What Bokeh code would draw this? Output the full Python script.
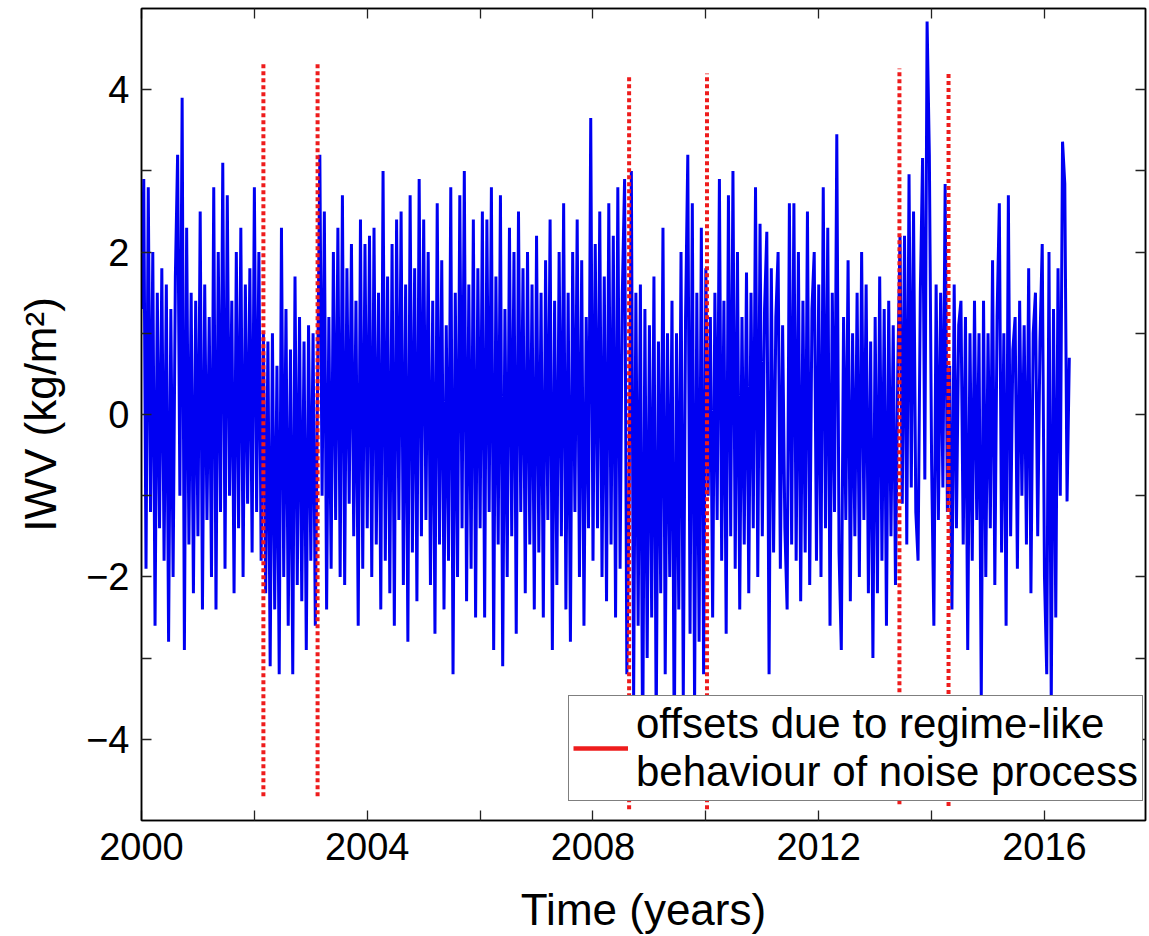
from bokeh.plotting import figure
from bokeh.models import (FixedTicker, LinearAxis, Range1d, Legend, LegendItem,
                          CustomLabelingPolicy)
from bokeh.embed import file_html
from bokeh.resources import INLINE

# IWV anomaly (kg/m^2), one value every 0.04 yr, starting at each year's beginning
iwv_2000 = [1.3, 2.9, -1.9, 2.8, -1.2, 2.0, -2.6, 1.5, -1.4, 1.8, -1.8, 1.6, -2.8,
            1.3, -2.0, 1.7, 3.2, -1.0, 3.9, -2.9, 2.3, -1.6, 1.5, -2.2, 1.4]
iwv_2001 = [-1.5, 2.5, -2.4, 1.6, -1.3, 1.2, -2.0, 2.8, -2.4, 2.0, -1.2, 3.1, -1.9,
            2.7, -1.0, 1.4, -2.2, 2.0, -1.4, 2.3, -2.0, 1.6, -1.1, 1.8, -1.7]
iwv_2002 = [2.8, -1.2, 2.0, -1.8, 1.0, -2.2, 0.9, -3.1, 1.0, -2.4, 0.6, -3.2, 2.3,
            -2.0, 1.3, -2.6, 0.8, -3.2, 1.7, -2.1, 1.2, -2.3, 0.9, -2.9, 1.1]
iwv_2003 = [-1.8, 1.0, -2.6, 0.4, 3.2, -1.0, 2.5, -2.4, 1.2, -1.9, 2.0, -1.3, 2.3,
            -2.0, 2.7, -2.1, 1.8, -1.1, 2.1, -1.5, 1.4, -2.6, 2.4, -1.9, 2.1]
iwv_2004 = [-1.4, 2.2, -2.0, 2.3, -1.6, 1.5, -2.4, 3.0, -1.8, 1.7, -2.2, 2.1, -2.6,
            2.4, -1.3, 2.5, -2.1, 1.6, -2.8, 2.7, -1.7, 1.8, -2.3, 2.9, -1.5]
iwv_2005 = [2.4, -1.3, 2.0, -2.1, 1.4, -2.7, 2.6, -1.6, 1.9, -2.4, 1.1, -1.8, 2.8,
            -3.2, 1.5, -2.0, 2.7, -1.4, 3.0, -2.3, 1.6, -1.9, 2.4, -2.5, 1.8]
iwv_2006 = [-1.4, 2.5, -2.5, 2.4, -1.2, 2.8, -2.9, 1.7, -1.6, 2.7, -3.1, 1.3, -2.0,
            2.3, -1.5, 2.0, -2.7, 2.5, -1.2, 1.8, -2.2, 2.0, -1.6, 1.6, -2.4]
iwv_2007 = [2.2, -1.7, 1.5, -2.5, 1.9, -1.3, 2.4, -2.9, 1.4, -2.1, 2.0, -1.5, 2.6,
            -2.4, 1.5, -2.8, 2.0, -1.2, 2.4, -2.0, 1.9, -2.6, 1.2, -1.4, 3.65]
iwv_2008 = [-1.8, 2.1, -1.4, 2.5, -2.0, 1.7, -2.3, 2.6, -1.6, 2.2, -2.5, 2.8, -1.9,
            1.5, 2.9, -3.2, -1.0, 3.0, -3.5, 1.5, -2.6, 1.6, -4.3, 1.3, -3.0]
iwv_2009 = [1.1, -2.5, 1.7, -3.9, 0.9, -2.2, 2.3, -3.2, 1.0, -2.0, 1.4, -4.2, 1.0,
            -2.4, 2.0, -3.5, 1.2, 3.2, -2.7, 2.6, -3.6, 1.5, -2.8, 2.3, -3.2]
iwv_2010 = [1.8, -1.0, 1.2, -2.5, 1.5, -1.3, 2.9, -1.8, 1.4, -2.7, 2.7, -1.5, 3.0,
            -1.9, 2.0, -2.4, 1.2, -1.6, 1.75, -2.2, 1.5, -1.4, 2.8, -2.0, 2.35]
iwv_2011 = [-1.5, 1.3, 2.25, -3.2, 1.8, -1.7, 1.2, 2.0, -1.9, 1.1, -1.4, -2.4, 2.6,
            -1.6, 2.6, -1.8, 2.0, -2.3, 1.4, -1.7, 2.5, -2.1, 1.3, 2.0, -1.8]
iwv_2012 = [1.6, -2.0, 2.8, -1.4, 2.3, -2.6, 1.5, -1.2, 3.45, -1.7, -2.9, 1.2, -1.3,
            1.9, -2.3, 1.0, -1.5, 1.5, -2.0, 2.0, -1.3, 1.6, -2.2, 0.9, -3.0]
iwv_2013 = [1.2, -2.2, 1.7, -1.8, 1.3, -2.6, 1.4, -1.5, 1.1, -2.1, 0.5, 2.2, -1.1,
            2.2, -1.6, 2.96, -0.9, 2.5, -1.2, -1.8, 1.5, 3.16, -0.8, 4.84, 3.2]
iwv_2014 = [-0.6, -2.6, 1.6, -1.3, 1.5, -0.9, 2.84, -1.2, 0.6, -2.4, 1.6, -1.4, 1.1,
            1.4, -1.6, 1.2, -2.9, 1.0, -1.8, 1.4, -1.3, 1.0, -3.5, 1.4, -2.0]
iwv_2015 = [1.0, -1.4, 1.9, -2.1, 1.2, 2.6, -1.7, 1.0, -2.6, 2.7, -1.5, 0.8, 1.2,
            -1.9, 1.4, -1.0, 1.1, -1.6, 1.8, -2.2, 1.0, 1.5, -1.5, 0.9, 2.1]
iwv_2016 = [-2.0, -3.2, 2.0, -3.6, 1.3, -2.5, 1.8, -1.0, 3.36, 2.84, -1.07, 0.7]

series_years = list(range(2000, 2017))
series_values = [iwv_2000, iwv_2001, iwv_2002, iwv_2003, iwv_2004, iwv_2005,
                 iwv_2006, iwv_2007, iwv_2008, iwv_2009, iwv_2010, iwv_2011,
                 iwv_2012, iwv_2013, iwv_2014, iwv_2015, iwv_2016]
step = 0.04

# Offsets (regime-like behaviour of the noise process)
offset_years = [2002.16, 2003.12, 2008.64, 2010.02, 2013.43, 2014.30]
offset_top = [4.32, 4.32, 4.16, 4.20, 4.26, 4.23]
offset_bottom = [-4.70, -4.70, -4.86, -4.86, -4.80, -4.82]

x_major = [2000, 2004, 2008, 2012, 2016]
x_minor = [2002, 2006, 2010, 2014]
y_major = [-4, -2, 0, 2, 4]
y_minor = [-3, -1, 1, 3]

t, v = [], []
for y0, vals in zip(series_years, series_values):
    for k, val in enumerate(vals):
        t.append(y0 + step * k)
        v.append(val)

FONT = "Liberation Sans"
BLUE = "#0000F2"
RED = "#EE1C1C"

p = figure(width=1149, height=936, output_backend="svg", toolbar_location=None,
           x_range=Range1d(2000, 2017.79), y_range=Range1d(-5, 5),
           min_border_left=141, min_border_right=3, min_border_top=8,
           min_border_bottom=113, background_fill_color="white",
           border_fill_color="white", outline_line_color="black",
           outline_line_width=1.5)
p.xgrid.visible = False
p.ygrid.visible = False

p.line(t, v, line_width=3, color=BLUE)
p.segment(x0=offset_years, y0=offset_bottom, x1=offset_years, y1=offset_top,
          line_color=RED, line_width=4, line_dash="4 3")
# legend key (solid red line, nothing visible in the plot area)
legend_line = p.line(x=[float("nan")], y=[float("nan")], line_color=RED, line_width=4.5)

hide_all = CustomLabelingPolicy(code="""
for (const i of Array.from(indices)) indices.unset(i)
return indices
""")

def style_axis(ax, ticks, minors, labels=True):
    ax.ticker = FixedTicker(ticks=ticks, minor_ticks=minors)
    ax.major_tick_in = 10
    ax.major_tick_out = 0
    ax.minor_tick_in = 10
    ax.minor_tick_out = 0
    ax.major_tick_line_color = "#222222"
    ax.minor_tick_line_color = "#222222"
    ax.major_tick_line_width = 1.3
    ax.minor_tick_line_width = 1.3
    ax.axis_line_color = "black"
    ax.axis_line_width = 1.5
    if labels:
        ax.major_label_text_font = FONT
        ax.major_label_text_font_size = "38px"
        ax.major_label_text_color = "black"
        ax.major_label_standoff = 12
        ax.axis_label_text_font = FONT
        ax.axis_label_text_font_size = "44px"
        ax.axis_label_text_font_style = "normal"
        ax.axis_label_text_color = "black"
        ax.axis_label_standoff = 18
    else:
        ax.major_label_text_font_size = "1px"
        ax.major_label_standoff = 0
        ax.major_label_policy = hide_all

style_axis(p.xaxis[0], x_major, x_minor)
style_axis(p.yaxis[0], y_major, y_minor)
p.xaxis[0].axis_label = "Time (years)"
p.xaxis[0].axis_label_standoff = 22
p.yaxis[0].axis_label = "IWV (kg/m\u00b2)"

top_ax = LinearAxis()
style_axis(top_ax, x_major, x_minor, labels=False)
p.add_layout(top_ax, "above")
right_ax = LinearAxis()
style_axis(right_ax, y_major, y_minor, labels=False)
p.add_layout(right_ax, "right")

legend = Legend(items=[LegendItem(label="offsets due to regime-like\nbehaviour of noise process",
                                  renderers=[legend_line])],
                location=(427, 19), orientation="vertical")
legend.label_text_font = FONT
legend.label_text_font_size = "42px"
legend.label_text_color = "black"
legend.label_text_line_height = 0.98
legend.glyph_width = 55
legend.glyph_height = 30
legend.label_standoff = 8
legend.padding = 4
legend.spacing = 0
legend.margin = 0
legend.border_line_color = "black"
legend.border_line_width = 1.5
legend.background_fill_color = "white"
legend.background_fill_alpha = 1.0
p.add_layout(legend, "center")

open("out.html", "w").write(file_html(p, INLINE))
